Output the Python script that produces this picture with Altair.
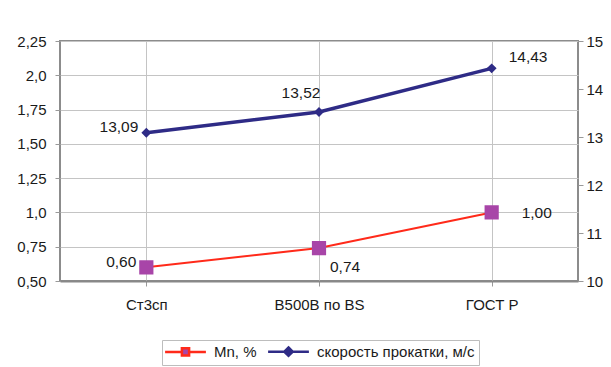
import altair as alt
import pandas as pd

# Grades of rebar steel along the x axis
grades = ["Ст3сп", "B500B по BS", "ГОСТ Р"]
# Manganese content, % (left axis)
mn_values = [0.60, 0.74, 1.00]
# Rolling speed, m/s (right axis)
speed_values = [13.09, 13.52, 14.43]

series_names = ["Mn, %", "скорость прокатки, м/с"]

# Left axis tick values and their printed labels
left_ticks = [0.50, 0.75, 1.00, 1.25, 1.50, 1.75, 2.00, 2.25]
left_tick_labels = ["0,50", "0,75", "1,0", "1,25", "1,50", "1,75", "2,0", "2,25"]
right_ticks = [10, 11, 12, 13, 14, 15]

FONT = "Liberation Sans"
FS = 15
RED = "#ff2a1a"
PURPLE = "#a845a8"
NAVY = "#2e2b86"
GRID = "#c4c4c4"
TXT = "#1a1a1a"

mn_df = pd.DataFrame({"grade": grades, "value": mn_values, "series": series_names[0],
                      "idx": range(len(grades))})
speed_df = pd.DataFrame({"grade": grades, "value": speed_values, "series": series_names[1],
                         "idx": range(len(grades))})

# label expression for the left axis built from the two lists above
left_expr = "".join(
    f"abs(datum.value - {v}) < 0.001 ? '{t}' : " for v, t in zip(left_ticks, left_tick_labels)
) + "datum.label"

x_enc = alt.X(
    "grade:N",
    sort=grades,
    scale=alt.Scale(domain=grades, paddingInner=0, paddingOuter=0),
    axis=alt.Axis(
        title=None, labelAngle=0, bandPosition=0, grid=True, gridColor=GRID,
        domainColor="#888888", domainWidth=2, tickColor="#999999", tickSize=5,
        labelPadding=11, labelFontSize=FS, labelColor=TXT, labelFont=FONT,
    ),
)

stroke_enc = alt.Stroke(
    "series:N",
    scale=alt.Scale(domain=series_names, range=[RED, NAVY]),
    legend=alt.Legend(title=None),
)
fill_enc = alt.Fill(
    "series:N",
    scale=alt.Scale(domain=series_names, range=[PURPLE, NAVY]),
    legend=alt.Legend(title=None),
)
# legend glyphs: a short line with the marker in its middle
shape_enc = alt.Shape(
    "series:N",
    scale=alt.Scale(
        domain=series_names,
        range=[
            "M-3.4,0H-0.6M0.6,0H3.4M-0.6,-0.6H0.6V0.6H-0.6Z",
            "M-3.4,0H-0.7M0.7,0H3.4M0,-0.7L0.7,0L0,0.7L-0.7,0Z",
        ],
    ),
    legend=alt.Legend(title=None),
)

label_text = "replace(format(datum.value, '.2f'), '.', ',')"


def labels(df, y_enc, placements):
    out = []
    for i, (align, dx, dy) in enumerate(placements):
        out.append(
            alt.Chart(df)
            .transform_filter(f"datum.idx == {i}")
            .transform_calculate(lab=label_text)
            .mark_text(align=align, baseline="middle", dx=dx, dy=dy,
                       fontSize=FS + 0.5, font=FONT, color=TXT)
            .encode(x=x_enc, y=y_enc, text="lab:N")
        )
    return out


# Mn layer on the left axis
y_left = alt.Y(
    "value:Q",
    scale=alt.Scale(domain=[0.5, 2.25], nice=False, zero=False),
    axis=alt.Axis(
        title=None, values=left_ticks, labelExpr=left_expr, grid=True, gridColor=GRID,
        domain=False, tickColor="#999999", tickSize=5, labelPadding=9,
        labelFontSize=FS, labelColor=TXT, labelFont=FONT,
    ),
)
mn_line = alt.Chart(mn_df).mark_line(strokeWidth=2).encode(x=x_enc, y=y_left, stroke=stroke_enc)
mn_pts = alt.Chart(mn_df).mark_point(filled=True, size=560, opacity=1).encode(
    x=x_enc, y=y_left, fill=fill_enc, shape=shape_enc
)
mn_layer = alt.layer(
    mn_line, mn_pts,
    *labels(mn_df, y_left, [("right", -10, -5), ("left", 11, 19), ("left", 30, 1)]),
)

# Rolling speed layer on the right axis
y_right = alt.Y(
    "value:Q",
    scale=alt.Scale(domain=[10, 15], nice=False, zero=False),
    axis=alt.Axis(
        title=None, orient="right", values=right_ticks, grid=False, domain=False,
        tickColor="#999999", tickSize=5, labelPadding=3,
        labelFontSize=FS, labelColor=TXT, labelFont=FONT,
    ),
)
sp_line = alt.Chart(speed_df).mark_line(strokeWidth=3.5).encode(x=x_enc, y=y_right, stroke=stroke_enc)
sp_pts = alt.Chart(speed_df).mark_point(filled=True, size=200, opacity=1).encode(
    x=x_enc, y=y_right, fill=fill_enc, shape=shape_enc
)
sp_layer = alt.layer(
    sp_line, sp_pts,
    *labels(speed_df, y_right, [("right", -8, -6), ("center", -18, -19), ("left", 17, -11)]),
)

chart = (
    alt.layer(mn_layer, sp_layer)
    .resolve_scale(y="independent")
    .properties(
        width=518, height=240,
        padding={"left": 60, "top": 41, "right": 31, "bottom": 86},
        autosize=alt.AutoSizeParams(type="none"),
        background="white",
    )
    .configure_view(stroke="#8c8c8c", strokeWidth=2)
    .configure_legend(
        orient="none", legendX=102, legendY=299, direction="horizontal",
        strokeColor="#bdbdbd", padding=4, symbolSize=144, symbolStrokeWidth=2.5,
        symbolOffset=12, labelOffset=21, columnPadding=6,
        labelFontSize=FS, labelFont=FONT, labelColor=TXT,
    )
)

chart.save("out.html", embed_options={"renderer": "svg", "actions": False})
